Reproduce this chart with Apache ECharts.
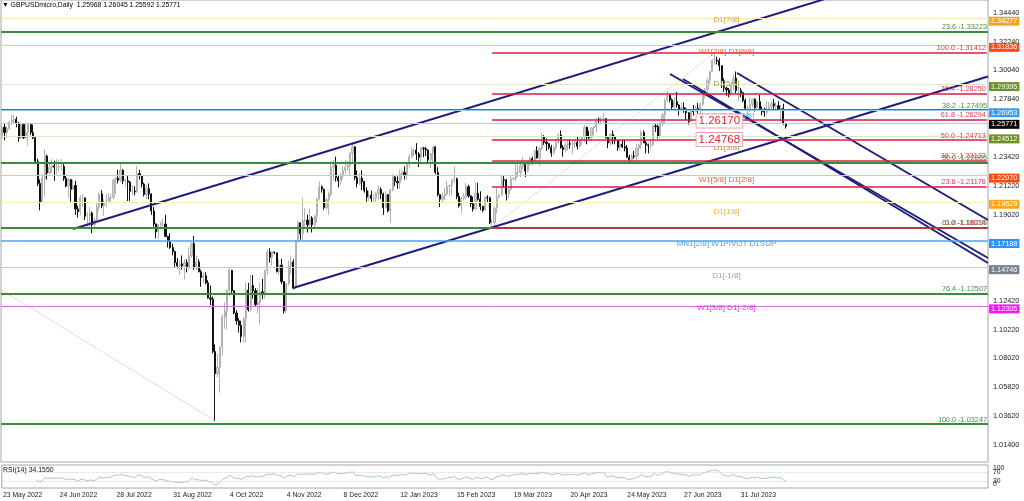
<!DOCTYPE html>
<html><head><meta charset="utf-8">
<script src="https://cdn.jsdelivr.net/npm/echarts@6/dist/echarts.min.js"></script>
<style>html,body{margin:0;padding:0;background:#fff}#c{width:1024px;height:501px}</style>
</head><body><div id="c"></div>
<script>
// ================= DATA =================
const symbolName = 'GBPUSDmicro,Daily';
const rsiCaption = 'RSI(14) 34.1550';
const xTickLabels = ['23 May 2022','24 Jun 2022','28 Jul 2022','31 Aug 2022','4 Oct 2022','4 Nov 2022','8 Dec 2022',
  '12 Jan 2023','15 Feb 2023','19 Mar 2023','20 Apr 2023','24 May 2023','27 Jun 2023','31 Jul 2023'];
const barsPerXTick = 24;
const yTickValues = [1.01400,1.03620,1.05820,1.08020,1.10220,1.12420,1.19020,1.21220,1.23420,1.27840,1.30040,1.32240,1.34440];
const rsiEdgeTicks = [0,100];
const rsiLevels = [70,30];

// Daily bars in MT4 order [open, high, low, close], 23 May 2022 .. 25 Aug 2023
const bars = [
[1.2490,1.2590,1.2480,1.2570],[1.2570,1.2600,1.2470,1.2530],[1.2530,1.2580,1.2490,1.2560],[1.2560,1.2620,1.2550,1.2610],[1.2610,1.2665,1.2590,1.2625],
[1.2625,1.2665,1.2600,1.2630],[1.2630,1.2650,1.2570,1.2600],[1.2600,1.2610,1.2460,1.2490],[1.2490,1.2600,1.2480,1.2590],[1.2590,1.2600,1.2480,1.2490],
[1.2490,1.2600,1.2480,1.2530],[1.2530,1.2600,1.2430,1.2590],[1.2590,1.2600,1.2510,1.2530],[1.2530,1.2590,1.2480,1.2490],[1.2490,1.2500,1.2300,1.2310],
[1.2310,1.2330,1.2120,1.2140],[1.2140,1.2170,1.1935,1.2000],[1.2000,1.2210,1.1990,1.2180],[1.2180,1.2405,1.2040,1.2350],[1.2350,1.2360,1.2170,1.2220],
[1.2220,1.2290,1.2210,1.2260],[1.2260,1.2325,1.2220,1.2275],[1.2275,1.2315,1.2160,1.2265],[1.2265,1.2325,1.2210,1.2265],[1.2265,1.2325,1.2230,1.2270],
[1.2270,1.2330,1.2240,1.2270],[1.2270,1.2290,1.2160,1.2180],[1.2180,1.2200,1.2110,1.2120],[1.2120,1.2180,1.2030,1.2170],[1.2170,1.2170,1.2000,1.2095],
[1.2095,1.2170,1.2090,1.2125],[1.2125,1.2160,1.1900,1.1945],[1.1945,1.1970,1.1880,1.1925],[1.1925,1.2050,1.1900,1.2030],[1.2030,1.2060,1.1960,1.2030],
[1.2030,1.2030,1.1860,1.1890],[1.1890,1.1920,1.1810,1.1890],[1.1890,1.1960,1.1810,1.1915],[1.1915,1.1925,1.1760,1.1825],[1.1825,1.1880,1.1805,1.1860],
[1.1860,1.2000,1.1850,1.1960],[1.1960,1.2070,1.1930,1.2060],[1.2060,1.2090,1.1950,1.1970],[1.1970,1.2020,1.1890,1.1995],[1.1995,1.2065,1.1960,1.2005],
[1.2005,1.2065,1.1990,1.2030],[1.2030,1.2060,1.1990,1.2035],[1.2035,1.2180,1.2020,1.2165],[1.2165,1.2190,1.2060,1.2180],[1.2180,1.2245,1.2140,1.2165],
[1.2165,1.2293,1.2150,1.2240],[1.2240,1.2250,1.2135,1.2160],[1.2160,1.2180,1.2110,1.2160],[1.2160,1.2200,1.2005,1.2150],[1.2150,1.2160,1.2005,1.2080],
[1.2080,1.2125,1.2050,1.2080],[1.2080,1.2120,1.2050,1.2075],[1.2075,1.2275,1.2070,1.2215],[1.2215,1.2245,1.2170,1.2200],[1.2200,1.2205,1.2110,1.2135],
[1.2135,1.2145,1.2040,1.2055],[1.2055,1.2130,1.2020,1.2100],[1.2100,1.2140,1.2020,1.2060],[1.2060,1.2065,1.1900,1.1930],[1.1930,1.1960,1.1810,1.1830],
[1.1830,1.1835,1.1720,1.1770],[1.1770,1.1830,1.1715,1.1825],[1.1825,1.1850,1.1790,1.1830],[1.1830,1.1870,1.1800,1.1830],[1.1830,1.1900,1.1730,1.1735],
[1.1735,1.1740,1.1650,1.1695],[1.1695,1.1760,1.1640,1.1650],[1.1650,1.1680,1.1590,1.1620],[1.1620,1.1625,1.1500,1.1535],[1.1535,1.1570,1.1490,1.1510],
[1.1510,1.1550,1.1440,1.1525],[1.1525,1.1590,1.1480,1.1510],[1.1510,1.1560,1.1405,1.1535],[1.1535,1.1560,1.1460,1.1500],[1.1500,1.1650,1.1480,1.1590],
[1.1590,1.1690,1.1570,1.1680],[1.1680,1.1738,1.1480,1.1500],[1.1500,1.1590,1.1480,1.1540],[1.1540,1.1560,1.1460,1.1465],[1.1465,1.1480,1.1350,1.1420],
[1.1420,1.1460,1.1380,1.1435],[1.1435,1.1460,1.1370,1.1380],[1.1380,1.1400,1.1260,1.1265],[1.1265,1.1360,1.1210,1.1255],[1.1255,1.1275,1.0840,1.0855],
[1.0855,1.0910,1.0325,1.0685],[1.0685,1.0840,1.0660,1.0735],[1.0735,1.0880,1.0540,1.0890],[1.0890,1.1140,1.0820,1.1120],[1.1120,1.1230,1.1030,1.1165],
[1.1165,1.1330,1.1020,1.1325],[1.1325,1.1495,1.1280,1.1475],[1.1475,1.1480,1.1300,1.1320],[1.1320,1.1325,1.1140,1.1150],[1.1150,1.1170,1.1060,1.1090],
[1.1090,1.1110,1.1000,1.1055],[1.1055,1.1090,1.0925,1.0970],[1.0970,1.1120,1.0925,1.1105],[1.1105,1.1380,1.0925,1.1325],[1.1325,1.1380,1.1160,1.1175],
[1.1175,1.1440,1.1160,1.1360],[1.1360,1.1440,1.1260,1.1320],[1.1320,1.1340,1.1200,1.1215],[1.1215,1.1340,1.1150,1.1230],[1.1230,1.1380,1.1060,1.1310],
[1.1310,1.1410,1.1255,1.1290],[1.1290,1.1480,1.1260,1.1475],[1.1475,1.1640,1.1440,1.1615],[1.1615,1.1645,1.1535,1.1575],[1.1575,1.1620,1.1510,1.1615],
[1.1615,1.1620,1.1600,1.1610],
[1.1610,1.1610,1.1460,1.1465],[1.1465,1.1560,1.1440,1.1515],[1.1515,1.1565,1.1370,1.1390],[1.1390,1.1390,1.1145,1.1165],[1.1165,1.1380,1.1150,1.1375],
[1.1375,1.1550,1.1360,1.1510],[1.1510,1.1590,1.1450,1.1540],[1.1540,1.1560,1.1330,1.1340],[1.1340,1.1710,1.1330,1.1700],[1.1700,1.1855,1.1690,1.1840],
[1.1840,1.1840,1.1710,1.1755],[1.1755,1.2030,1.1710,1.1855],[1.1855,1.1950,1.1800,1.1860],[1.1860,1.1900,1.1765,1.1825],[1.1825,1.1950,1.1815,1.1875],
[1.1875,1.1890,1.1765,1.1825],[1.1825,1.1900,1.1790,1.1890],[1.1890,1.2030,1.1840,1.2020],[1.2020,1.2155,1.2010,1.2115],[1.2115,1.2125,1.2070,1.2095],
[1.2095,1.2100,1.1940,1.1955],[1.1955,1.2030,1.1940,1.2015],[1.2015,1.2080,1.1900,1.2060],[1.2060,1.2310,1.2040,1.2265],[1.2265,1.2320,1.2160,1.2280],
[1.2280,1.2345,1.2155,1.2185],[1.2185,1.2205,1.2110,1.2160],[1.2160,1.2220,1.2130,1.2200],[1.2200,1.2270,1.2170,1.2240],[1.2240,1.2320,1.2210,1.2265],
[1.2265,1.2315,1.2235,1.2280],[1.2280,1.2380,1.2205,1.2370],[1.2370,1.2445,1.2300,1.2420],[1.2420,1.2425,1.2165,1.2185],[1.2185,1.2240,1.2110,1.2140],
[1.2140,1.2220,1.2125,1.2180],[1.2180,1.2240,1.2090,1.2155],[1.2155,1.2160,1.2070,1.2085],[1.2085,1.2110,1.2000,1.2035],[1.2035,1.2085,1.2005,1.2050],
[1.2050,1.2085,1.2000,1.2025],[1.2025,1.2060,1.2000,1.2025],[1.2025,1.2075,1.2000,1.2065],[1.2065,1.2125,1.2010,1.2095],[1.2095,1.2110,1.2020,1.2060],
[1.2060,1.2070,1.1900,1.1955],[1.1955,1.2080,1.1950,1.2055],[1.2055,1.2060,1.1920,1.1930],[1.1930,1.2100,1.1840,1.2090],[1.2090,1.2210,1.2080,1.2190],
[1.2190,1.2200,1.2120,1.2155],[1.2155,1.2195,1.2100,1.2145],[1.2145,1.2245,1.2100,1.2215],[1.2215,1.2245,1.2165,1.2225],[1.2225,1.2270,1.2170,1.2200],
[1.2200,1.2305,1.2170,1.2290],[1.2290,1.2365,1.2255,1.2345],[1.2345,1.2415,1.2335,1.2390],[1.2390,1.2410,1.2350,1.2395],[1.2395,1.2448,1.2320,1.2365],
[1.2365,1.2380,1.2265,1.2340],[1.2340,1.2420,1.2290,1.2410],[1.2410,1.2420,1.2340,1.2405],[1.2405,1.2420,1.2350,1.2395],[1.2395,1.2400,1.2300,1.2320],
[1.2320,1.2375,1.2260,1.2370],[1.2370,1.2420,1.2300,1.2420],[1.2420,1.2425,1.2210,1.2225],[1.2225,1.2265,1.2040,1.2055],[1.2055,1.2055,1.1960,1.2020],
[1.2020,1.2070,1.1990,1.2045],[1.2045,1.2110,1.2010,1.2060],[1.2060,1.2160,1.2050,1.2120],[1.2120,1.2130,1.2040,1.2125],[1.2125,1.2170,1.2050,1.2165],
[1.2165,1.2270,1.2140,1.2175],[1.2175,1.2185,1.2020,1.2040],[1.2040,1.2070,1.1955,1.1970],[1.1970,1.2040,1.1915,1.2030],[1.2030,1.2065,1.2010,1.2040],
[1.2040,1.2145,1.2020,1.2115],[1.2115,1.2130,1.2030,1.2045],[1.2045,1.2050,1.1960,1.1985],[1.1985,1.2040,1.1925,1.1945],[1.1945,1.2150,1.1940,1.2065],
[1.2065,1.2145,1.2010,1.2020],[1.2020,1.2080,1.1935,1.1965],[1.1965,1.1970,1.1920,1.1935],[1.1935,1.2040,1.1935,1.2035],[1.2035,1.2050,1.1990,1.2030],
[1.2030,1.2040,1.1830,1.1840],[1.1840,1.1870,1.1801,1.1840],[1.1840,1.1965,1.1815,1.1950],[1.1950,1.2105,1.1910,1.2035],[1.2035,1.2060,1.2030,1.2050],
[1.2050,1.2205,1.2050,1.2170],[1.2170,1.2205,1.2110,1.2165],[1.2165,1.2175,1.2010,1.2060],[1.2060,1.2115,1.2025,1.2095],[1.2095,1.2200,1.2085,1.2175],
[1.2175,1.2185,1.2165,1.2180],
[1.2180,1.2290,1.2160,1.2225],[1.2225,1.2285,1.2190,1.2225],[1.2225,1.2290,1.2190,1.2275],[1.2275,1.2343,1.2250,1.2285],[1.2285,1.2290,1.2190,1.2235],
[1.2235,1.2315,1.2225,1.2290],[1.2290,1.2345,1.2275,1.2330],[1.2330,1.2345,1.2285,1.2310],[1.2310,1.2400,1.2300,1.2390],[1.2390,1.2425,1.2330,1.2335],
[1.2335,1.2420,1.2275,1.2410],[1.2410,1.2525,1.2395,1.2500],[1.2500,1.2510,1.2435,1.2455],[1.2455,1.2485,1.2390,1.2445],[1.2445,1.2445,1.2400,1.2415],
[1.2415,1.2435,1.2345,1.2375],[1.2375,1.2430,1.2360,1.2415],[1.2415,1.2480,1.2395,1.2455],[1.2455,1.2525,1.2440,1.2510],[1.2510,1.2546,1.2405,1.2415],
[1.2415,1.2435,1.2345,1.2400],[1.2400,1.2455,1.2380,1.2435],[1.2435,1.2475,1.2390,1.2445],[1.2445,1.2475,1.2405,1.2440],[1.2440,1.2470,1.2365,1.2445],
[1.2445,1.2480,1.2410,1.2455],[1.2455,1.2500,1.2400,1.2425],[1.2425,1.2490,1.2415,1.2470],[1.2470,1.2500,1.2435,1.2495],[1.2495,1.2585,1.2455,1.2570],
[1.2570,1.2575,1.2440,1.2495],[1.2495,1.2545,1.2475,1.2490],[1.2490,1.2570,1.2465,1.2565],[1.2565,1.2580,1.2510,1.2575],[1.2575,1.2640,1.2530,1.2630],
[1.2630,1.2645,1.2595,1.2625],[1.2625,1.2650,1.2600,1.2625],[1.2625,1.2680,1.2605,1.2635],[1.2635,1.2640,1.2480,1.2490],[1.2490,1.2500,1.2410,1.2450],
[1.2450,1.2520,1.2430,1.2515],[1.2515,1.2545,1.2440,1.2495],[1.2495,1.2505,1.2440,1.2470],[1.2470,1.2470,1.2390,1.2415],[1.2415,1.2475,1.2390,1.2440],
[1.2440,1.2470,1.2410,1.2420],[1.2420,1.2475,1.2385,1.2410],[1.2410,1.2435,1.2340,1.2340],[1.2340,1.2360,1.2308,1.2320],[1.2320,1.2365,1.2300,1.2350],
[1.2350,1.2390,1.2330,1.2345],[1.2345,1.2445,1.2310,1.2410],[1.2410,1.2445,1.2350,1.2435],[1.2435,1.2545,1.2405,1.2530],[1.2530,1.2545,1.2455,1.2450],
[1.2450,1.2465,1.2370,1.2435],[1.2435,1.2445,1.2370,1.2430],[1.2430,1.2475,1.2400,1.2435],[1.2435,1.2585,1.2430,1.2580],[1.2580,1.2595,1.2535,1.2575],
[1.2575,1.2590,1.2485,1.2500],[1.2500,1.2615,1.2485,1.2605],[1.2605,1.2680,1.2575,1.2665],[1.2665,1.2790,1.2595,1.2780],[1.2780,1.2848,1.2765,1.2815],
[1.2815,1.2820,1.2760,1.2780],[1.2780,1.2790,1.2700,1.2725],[1.2725,1.2800,1.2700,1.2765],[1.2765,1.2840,1.2720,1.2740],[1.2740,1.2745,1.2660,1.2710],
[1.2710,1.2760,1.2700,1.2720],[1.2720,1.2760,1.2680,1.2710],[1.2710,1.2720,1.2625,1.2680],[1.2680,1.2685,1.2590,1.2615],[1.2615,1.2710,1.2610,1.2705],
[1.2705,1.2740,1.2660,1.2690],[1.2690,1.2730,1.2685,1.2715],[1.2715,1.2755,1.2675,1.2710],[1.2710,1.2760,1.2650,1.2745],[1.2745,1.2850,1.2730,1.2840],
[1.2840,1.2870,1.2790,1.2860],[1.2860,1.2950,1.2840,1.2930],[1.2930,1.3000,1.2890,1.2995],[1.2995,1.3090,1.2990,1.3085],[1.3085,1.3141,1.3050,1.3085],
[1.3085,1.3110,1.3050,1.3080],[1.3080,1.3100,1.3000,1.3040],[1.3040,1.3045,1.2870,1.2925],[1.2925,1.2945,1.2840,1.2870],[1.2870,1.2880,1.2810,1.2855],
[1.2855,1.2870,1.2800,1.2820],[1.2820,1.2900,1.2810,1.2895],[1.2895,1.2975,1.2850,1.2945],[1.2945,1.2996,1.2830,1.2850],[1.2850,1.2880,1.2770,1.2850],
[1.2850,1.2870,1.2800,1.2835],
[1.2835,1.2840,1.2760,1.2775],[1.2775,1.2790,1.2700,1.2715],[1.2715,1.2735,1.2620,1.2715],[1.2715,1.2800,1.2685,1.2745],
[1.2745,1.2790,1.2720,1.2785],[1.2785,1.2790,1.2690,1.2720],[1.2720,1.2770,1.2700,1.2765],[1.2765,1.2818,1.2700,1.2705],[1.2705,1.2730,1.2660,1.2690],
[1.2690,1.2720,1.2650,1.2685],[1.2685,1.2770,1.2660,1.2710],[1.2710,1.2760,1.2700,1.2725],[1.2725,1.2765,1.2710,1.2750],[1.2750,1.2785,1.2710,1.2735],
[1.2735,1.2765,1.2700,1.2735],[1.2735,1.2770,1.2700,1.2710],[1.2710,1.2740,1.2615,1.2715],[1.2715,1.2750,1.2590,1.2597],[1.25968,1.26045,1.25592,1.25771]
];
const emptySlotsRight = 85;          // empty future bars to the right of the last candle

// Murrey Math levels
const murreyPrices = [1.34277,1.31836,1.29395,1.26953,1.24512,1.22070,1.19629,1.17188,1.14746,1.12305];
const murreyNames  = ['D1[7/8]','W1[7/8] D1[6/8]','D1[5/8]','W1[6/8] D1[4/8]','D1[3/8]','W1[5/8] D1[2/8]','D1[1/8]','MN1[2/8] W1PIVOT D1SUP','D1[-1/8]','W1[3/8] D1[-2/8]'];
const murreyLabelBar = 306;
// Fibonacci (red): low 8 Mar 2023 -> high 14 Jul 2023
const fibRedLevels = [100.0,76.4,61.8,50.0,38.2,23.6,0.0];
const fibRedPrices = [1.31412,1.28250,1.26294,1.24713,1.23132,1.21176,1.18014];
const fibRedAnchor = [[207,1.18014],[301,1.31412]];
// Fibonacci (green): high Jun 2021 -> low 26 Sep 2022
const fibGreenLevels = [23.6,38.2,50.0,61.8,76.4,100.0];
const fibGreenPrices = [1.33223,1.27495,1.22865,1.18235,1.12507,1.03247];
const fibGreenAnchor = [[-264,1.42483],[90,1.03247]];
// Trend / channel lines: [barIndex, price] -> [barIndex, price]
const trendLines = [
  [[29.92,1.17918],[416.5,1.39320]],
  [[122.87,1.13406],[416.5,1.29585]],
  [[310.45,1.29847],[416.5,1.18606]],
  [[282.14,1.29771],[416.5,1.15700]],
  [[287.63,1.29389],[416.5,1.15318]]
];
// Price tags
const priceTags = [1.26170,1.24768];
const priceTagBar = 303;

// ================= STYLE =================
const FONT = '"Liberation Sans", Arial, sans-serif';
const murreyStyle = [
  {line:'#fde3b4', text:'#f0a22a', box:'#f5a524'},
  {line:'#f7bfa8', text:'#ff5a2a', box:'#ff4a12'},
  {line:'#e3e3c6', text:'#9ba33e', box:'#6e9028'},
  {line:'#92c8f0', text:'#5aa6ea', box:'#3a9bf5'},
  {line:'#e3e3c6', text:'#9ba33e', box:'#6e9028'},
  {line:'#f7b89c', text:'#f26432', box:'#ff4a12'},
  {line:'#fdebc0', text:'#f2b232', box:'#ffa514'},
  {line:'#4aa3f0', text:'#4aa3f0', box:'#2b95f5', w:1.6},
  {line:'#cacaca', text:'#a0a0a0', box:'#76808c'},
  {line:'#cf72dc', text:'#e033e0', box:'#ff14ff'}
];

// ================= BUILD =================
const nSlots = bars.length + emptySlotsRight;
const cats = Array.from({length:nSlots}, (_, i) => String(i));
const candleData = bars.map(b => [b[0], b[3], b[2], b[1]]);
const closes = bars.map(b => b[3]);
const last = bars[bars.length - 1];
const bidPrice = last[3];

// RSI(14), Wilder smoothing, of the close series
function rsiOf(c, n) {
  const out = c.map(() => null);
  let g = 0, l = 0;
  for (let i = 1; i <= n; i++) { const d = c[i] - c[i-1]; if (d > 0) g += d; else l -= d; }
  g /= n; l /= n;
  out[n] = l === 0 ? 100 : 100 - 100 / (1 + g / l);
  for (let i = n + 1; i < c.length; i++) {
    const d = c[i] - c[i-1];
    g = (g * (n - 1) + Math.max(d, 0)) / n;
    l = (l * (n - 1) + Math.max(-d, 0)) / n;
    out[i] = l === 0 ? 100 : 100 - 100 / (1 + g / l);
  }
  return out;
}
const rsi = rsiOf(closes, 14);

const boxLabel = (txt, bg, dy) => ({show:true, position:'end', distance:[1,0], offset:[0,dy], formatter:txt, backgroundColor:bg,
  color:'#fff', padding:[1,2,0,2], fontSize:7.3, lineHeight:8, fontFamily:FONT});

const markLines = [];
fibGreenPrices.forEach((p, k) => markLines.push({yAxis:p,
  lineStyle:{color:'#3d8a3d', width:2, type:'solid'},
  label:{show:true, position:'insideEndTop', distance:[1,1], formatter:fibGreenLevels[k].toFixed(1) + ' -' + p.toFixed(5),
    color:'#3a943a', fontSize:7.3, fontFamily:FONT}}));
murreyPrices.forEach((p, k) => markLines.push({yAxis:p,
  lineStyle:{color:murreyStyle[k].line, width:murreyStyle[k].w || 1, type:'solid'},
  label:boxLabel(p.toFixed(5), murreyStyle[k].box, 2.5)}));
fibRedPrices.forEach((p, k) => markLines.push([
  {coord:[fibRedAnchor[0][0], p], lineStyle:{color:'#d81e46', width:1.5, type:'solid'},
   label:{show:true, position:'insideEndTop', distance:[1,1], formatter:fibRedLevels[k].toFixed(1) + ' -' + p.toFixed(5),
     color:'#dc3a5a', fontSize:7.3, fontFamily:FONT}},
  {coord:[nSlots - 1, p]}]));
markLines.push({yAxis:bidPrice, lineStyle:{color:'#c6c6c6', width:1, type:'solid'}, label:boxLabel(bidPrice.toFixed(5), '#000', 1)});

const markPoints = [];
murreyPrices.forEach((p, k) => markPoints.push({coord:[murreyLabelBar, p], symbolSize:1, itemStyle:{color:'rgba(0,0,0,0)'},
  label:{show:true, position:'inside', offset:[0,5], formatter:murreyNames[k], color:murreyStyle[k].text, fontSize:8, fontFamily:FONT}}));
priceTags.forEach(p => markPoints.push({coord:[priceTagBar, p], symbolSize:1, itemStyle:{color:'rgba(0,0,0,0)'},
  label:{show:true, position:'inside', formatter:p.toFixed(5), color:'#e3232e', fontSize:11.5, fontFamily:FONT,
    backgroundColor:'#fff', borderColor:'#f2a3ab', borderWidth:1, padding:[1,2,0,2]}}));

const lineSeries = (pts, style) => ({type:'line', xAxisIndex:1, yAxisIndex:0, data:pts, showSymbol:false, symbol:'none',
  clip:true, silent:true, animation:false, lineStyle:style, z:4});

const series = [
  {type:'candlestick', xAxisIndex:0, yAxisIndex:0, data:candleData, barWidth:'70%', silent:true, animation:false, z:3,
   itemStyle:{color:'#d2d2d2', borderColor:'#b2b2b2', color0:'#111', borderColor0:'#111', borderWidth:1},
   markLine:{symbol:['none','none'], silent:true, animation:false, data:markLines},
   markPoint:{symbol:'circle', silent:true, animation:false, data:markPoints}},
  lineSeries(fibRedAnchor, {color:'#dcbcc0', width:1, type:'dotted'}),
  lineSeries(fibGreenAnchor, {color:'#d4b0b0', width:1, type:'dotted'}),
  ...trendLines.map(t => lineSeries(t, {color:'#1d1d80', width:2})),
  {type:'line', xAxisIndex:2, yAxisIndex:1, data:rsi, showSymbol:false, symbol:'none', silent:true, animation:false,
   lineStyle:{color:'#a8c4d4', width:1},
   markLine:{symbol:['none','none'], silent:true, animation:false, label:{show:false},
     lineStyle:{color:'#d6d6d6', width:1, type:'dotted'}, data:rsiLevels.map(v => ({yAxis:v}))}}
];

const rsiAxisBase = {type:'value', gridIndex:1, position:'right', min:0, max:100, splitLine:{show:false}, axisLine:{show:false}, axisTick:{show:false}};
const option = {
  animation:false,
  backgroundColor:'#fff',
  title:[
    {text:'▼ ' + symbolName + '  ' + last.map(v => v.toFixed(5)).join(' '), left:2, top:2, padding:0,
     textStyle:{fontSize:6.8, fontWeight:'normal', color:'#000', fontFamily:FONT}},
    {text:rsiCaption, left:3, top:467, padding:0, textStyle:{fontSize:6.9, fontWeight:'normal', color:'#111', fontFamily:FONT}}
  ],
  grid:[
    {left:1, right:36, top:0, height:462, show:true, borderColor:'#a4a4a4', borderWidth:1},
    {left:1, right:36, top:465, height:23, show:true, borderColor:'#a4a4a4', borderWidth:1}
  ],
  xAxis:[
    {type:'category', gridIndex:0, data:cats, boundaryGap:true, axisLine:{show:false}, axisTick:{show:false}, axisLabel:{show:false}, splitLine:{show:false}},
    {type:'value', gridIndex:0, min:-0.5, max:nSlots - 0.5, show:false},
    {type:'category', gridIndex:1, data:cats, boundaryGap:true, axisLine:{show:false}, axisTick:{show:false}, splitLine:{show:false},
     axisLabel:{interval:(i) => i % barsPerXTick === 0 && i / barsPerXTick < xTickLabels.length,
       formatter:(v, i) => xTickLabels[Math.round(i / barsPerXTick)] || '', align:'left', fontSize:6.8, color:'#222', margin:4, fontFamily:FONT}}
  ],
  yAxis:[
    {type:'value', gridIndex:0, position:'right', min:1.0010, max:1.3543, splitLine:{show:false}, axisLine:{show:false}, axisTick:{show:false},
     axisLabel:{customValues:yTickValues, formatter:v => v.toFixed(5), fontSize:7.3, color:'#222', margin:5, fontFamily:FONT}},
    Object.assign({}, rsiAxisBase, {
     axisLabel:{customValues:rsiEdgeTicks, hideOverlap:false,
       formatter:v => v === 100 ? '{hi|100}' : '{lo|0}',
       rich:{hi:{padding:[7,0,0,0], fontSize:6.8, color:'#222', fontFamily:FONT}, lo:{padding:[0,0,7,0], fontSize:6.8, color:'#222', fontFamily:FONT}},
       fontSize:6.8, color:'#222', margin:5, fontFamily:FONT}}),
    Object.assign({}, rsiAxisBase, {
     axisLabel:{customValues:rsiLevels, hideOverlap:false, formatter:v => String(v), fontSize:6.8, color:'#222', margin:5, fontFamily:FONT}})
  ],
  series
};
const chart = echarts.init(document.getElementById('c'), null, {renderer:'canvas'});
chart.setOption(option);
</script>
</body></html>
